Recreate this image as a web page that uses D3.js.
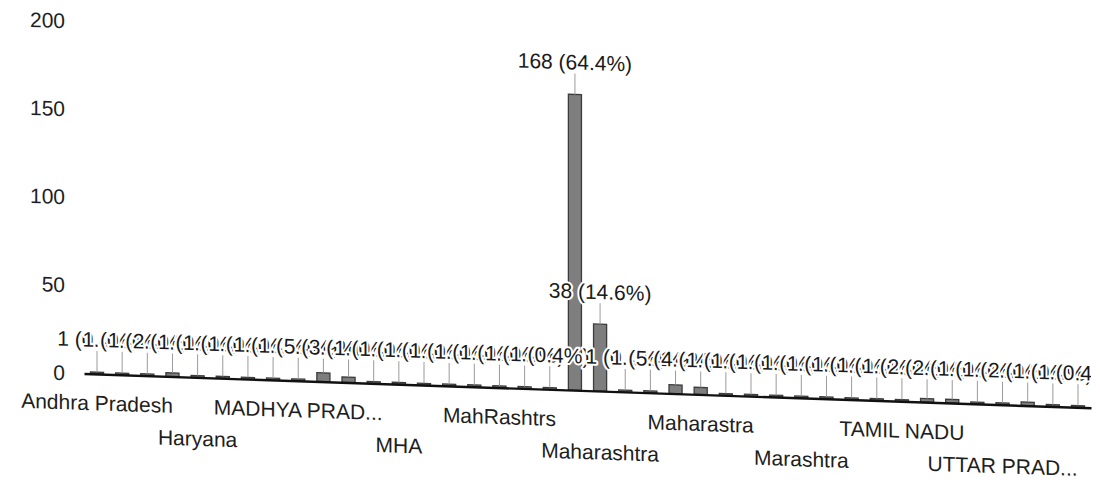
<!DOCTYPE html>
<html><head><meta charset="utf-8">
<script src="https://cdn.jsdelivr.net/npm/d3@7"></script>
<style>
html,body{margin:0;padding:0;background:#fff;}
svg{display:block;font-family:"Liberation Sans",Arial,sans-serif;}
</style></head><body>
<svg id="chart" width="1100" height="484"></svg>
<script>
// ---- data ----
const categories = [
  "Andhra Pradesh","Assam","Bihar","Delhi","Haryana","Himachal Pradesh","Jharkhand","Karnataka",
  "MADHYA PRADESH","MAHARASHTRA","MAHARASTRA","MAHRASHTRA","MHA","MP","Mah Rashtra","Madhya Pradesh",
  "MahRashtrs","Maha Rashtra","Maharasahtra","Maharashtra","Maharashtra ","Maharashtra.","Maharashtrs","Maharasshtra",
  "Maharastra","Maharatra","Maharshtra","Mahrashtra","Marashtra","Nagaland","Odisha","Punjab",
  "TAMIL NADU","Tamil Nadu","Telangana","Tripura","UTTAR PRADESH","Uttar Pradesh","Uttarakhand","West Bengal"
];
const counts = [1,1,1,2,1,1,1,1,1,5,3, 1,1,1,1,1,1,1,1, 168,38, 1,1,5,4, 1,1,1,1,1,1,1, 1,2,2,1,1,2,1,1];
const yTicks = [0,50,100,150,200];

// ---- drawing ----
const svg = d3.select('#chart');
const FONT = '"Liberation Sans", Arial, sans-serif';
const pivotX = 84, slope = 0.034;
const skewDeg = Math.atan(slope) * 180 / Math.PI;
const g = svg.append('g')
  .attr('transform', `translate(${pivotX},0) skewY(${skewDeg}) translate(${-pivotX},0)`);

const x = d3.scaleBand().domain(categories).range([84, 1091]).paddingInner(0.48).paddingOuter(0.257);
const y = d3.scaleLinear().domain([0, 200]).range([373.5, 21.5]);
const total = d3.sum(counts);
const data = categories.map((c, i) => ({c, i, v: counts[i]}));
const short = s => (s.length > 12 && s === s.toUpperCase()) ? s.replace(/ESH$/, '') + '...' : s;

// y axis
const ya = g.append('g').attr('transform', 'translate(84,0)')
  .call(d3.axisLeft(y).tickValues(yTicks).tickSize(0).tickPadding(19));
ya.select('.domain').remove();
ya.selectAll('text').attr('font-size', 21).attr('font-family', FONT).attr('fill', '#1e1e1e');

// bars
g.append('g').selectAll('rect').data(data).join('rect')
  .attr('x', d => x(d.c)).attr('y', d => y(d.v))
  .attr('width', x.bandwidth()).attr('height', d => y(0) - y(d.v))
  .attr('fill', '#7e7e7e').attr('stroke', '#3c3c3c').attr('stroke-width', 1.3);

// x axis
const xa = g.append('g').attr('transform', `translate(0,${y(0)})`)
  .call(d3.axisBottom(x).tickValues(categories.filter((d, i) => i % 4 === 0))
    .tickSize(0).tickSizeOuter(0).tickFormat(short));
xa.select('.domain').attr('stroke', '#111').attr('stroke-width', 2.4);
xa.selectAll('text').attr('font-size', 21).attr('font-family', FONT).attr('fill', '#1e1e1e')
  .attr('dy', 0).attr('y', d => (categories.indexOf(d) % 8 === 0) ? 36.5 : 68.5);

// data labels with leader lines
const labelY = d => (y(0) - y(d.v)) > 20 ? y(d.v) - 25 : y(0) - 27;
svg.append('defs').append('clipPath').attr('id', 'clip')
  .append('rect').attr('x', 0).attr('y', 0).attr('width', 1091).attr('height', 484);
const lg = g.append('g').attr('clip-path', 'url(#clip)');
lg.selectAll('line').data(data).join('line')
  .attr('x1', d => x(d.c) + x.bandwidth() / 2).attr('x2', d => x(d.c) + x.bandwidth() / 2)
  .attr('y1', d => labelY(d) + 4).attr('y2', d => y(d.v))
  .attr('stroke', '#9a9a9a').attr('stroke-width', 1);
lg.selectAll('text').data(data).join('text')
  .attr('x', d => x(d.c) + x.bandwidth() / 2).attr('y', d => labelY(d))
  .attr('text-anchor', 'middle').attr('font-size', 21).attr('font-family', FONT)
  .attr('fill', '#1a1a1a').attr('stroke', '#fff').attr('stroke-width', 4)
  .attr('stroke-linejoin', 'round').attr('paint-order', 'stroke')
  .text(d => `${d.v} (${(d.v / total * 100).toFixed(1)}%)`);
</script>
</body></html>
